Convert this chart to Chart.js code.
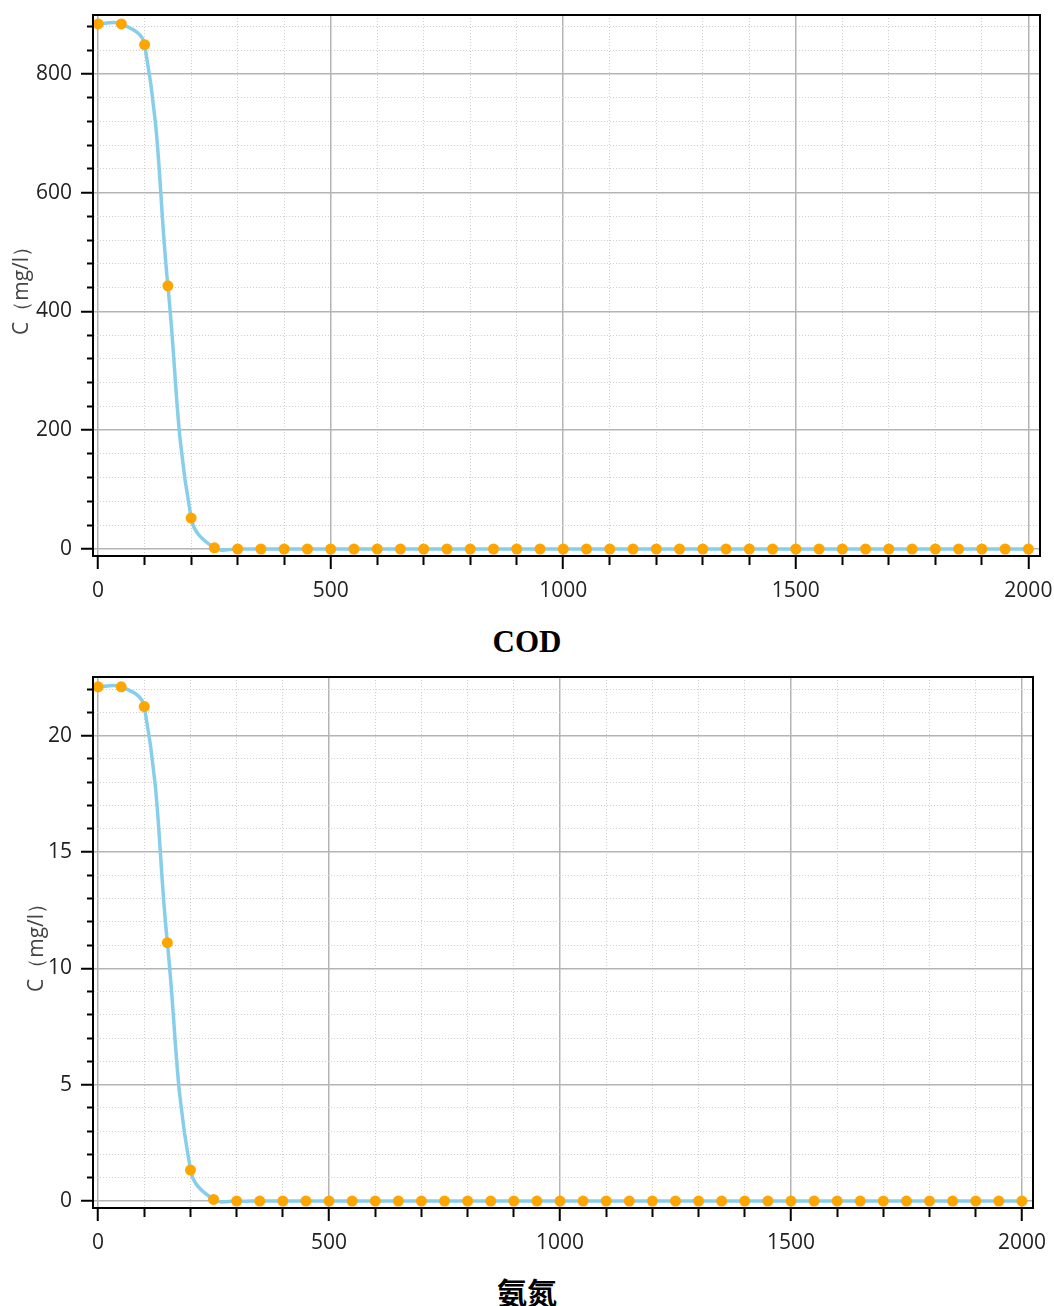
<!DOCTYPE html>
<html>
<head>
<meta charset="utf-8">
<script src="https://cdn.jsdelivr.net/npm/chart.js@4.4.1/dist/chart.umd.min.js"></script>
<style>
  body { margin: 0; background: #fff; width: 1054px; height: 1306px; position: relative; overflow: hidden; }
  .box { position: absolute; left: 0; width: 1054px; }
  .cap { position: absolute; left: 0; width: 1054px; text-align: center; color: #000; line-height: 36px; }
</style>
</head>
<body>
<div class="box" style="top:0;height:620px"><canvas id="codChart"></canvas></div>
<div class="cap" style="top:624px;font-weight:bold;font-size:31px;font-family:'Liberation Serif','Times New Roman',serif;">COD</div>
<div class="box" style="top:660px;height:600px"><canvas id="nh3Chart"></canvas></div>
<div class="cap" style="top:1273px;font-weight:bold;font-size:30px;font-family:'Noto Sans CJK SC',sans-serif;">氨氮</div>

<script>
// tiempo (x) de cada punto
const xVals = [0, 50, 100, 150, 200, 250, 300, 350, 400, 450, 500, 550, 600, 650, 700, 750, 800,
  850, 900, 950, 1000, 1050, 1100, 1150, 1200, 1250, 1300, 1350, 1400, 1450, 1500, 1550, 1600,
  1650, 1700, 1750, 1800, 1850, 1900, 1950, 2000];

// concentraciones
const codVals = [884, 884, 849, 443, 52, 2, 0, 0, 0, 0, 0, 0, 0, 0, 0, 0, 0, 0, 0, 0, 0,
  0, 0, 0, 0, 0, 0, 0, 0, 0, 0, 0, 0, 0, 0, 0, 0, 0, 0, 0, 0];
const nh3Vals = [22.1, 22.1, 21.25, 11.1, 1.33, 0.07, 0, 0, 0, 0, 0, 0, 0, 0, 0, 0, 0, 0, 0, 0, 0,
  0, 0, 0, 0, 0, 0, 0, 0, 0, 0, 0, 0, 0, 0, 0, 0, 0, 0, 0, 0];

// ticks (menores) y etiquetas (mayores)
const xTicks = [0, 100, 200, 300, 400, 500, 600, 700, 800, 900, 1000, 1100, 1200, 1300, 1400,
  1500, 1600, 1700, 1800, 1900, 2000];
const xLabels = [0, 500, 1000, 1500, 2000];
const codTicks = [0, 40, 80, 120, 160, 200, 240, 280, 320, 360, 400, 440, 480, 520, 560, 600,
  640, 680, 720, 760, 800, 840, 880];
const codLabels = [0, 200, 400, 600, 800];
const nh3Ticks = [0, 1, 2, 3, 4, 5, 6, 7, 8, 9, 10, 11, 12, 13, 14, 15, 16, 17, 18, 19, 20, 21, 22];
const nh3Labels = [0, 5, 10, 15, 20];

const tickFont = { family: "'Segoe UI','Open Sans',sans-serif", size: 21 };

// marco negro alrededor del área del gráfico
const framePlugin = {
  id: "frame",
  afterDraw(chart) {
    const { ctx, chartArea: a } = chart;
    ctx.save();
    ctx.strokeStyle = "#000";
    ctx.lineWidth = 2;
    ctx.strokeRect(a.left, a.top, a.right - a.left, a.bottom - a.top);
    ctx.restore();
  },
};

function axisOpts(ticks, labels, tickLen, shortLen, horizontal) {
  const isMajor = (c) => c.tick && labels.includes(c.tick.value);
  return {
    type: "linear",
    afterBuildTicks: (axis) => {
      axis.ticks = ticks.map((v) => ({ value: v }));
    },
    ticks: {
      autoSkip: false,
      maxRotation: 0,
      padding: 9,
      color: "#222",
      font: tickFont,
      callback: (v) => (labels.includes(v) ? String(v) : ""),
    },
    grid: {
      color: (c) => (isMajor(c) ? "#b4b4b4" : "#cfcfcf"),
      lineWidth: (c) => (isMajor(c) ? 1.5 : 1),
      tickColor: "#000",
      tickWidth: 2,
      tickLength: tickLen,
      tickBorderDash: (c) =>
        isMajor(c) ? [] : horizontal ? [shortLen, 100] : [0, tickLen - shortLen, shortLen, 100],
    },
    border: {
      color: "#000",
      width: 2,
      dash: (c) => (c.tick && !isMajor(c) ? [1, 2] : []),
    },
  };
}

function crearGrafico(id, yVals, yTicks, yLabels, yMin, yMax, xMin, xMax, pad, titlePad) {
  const x = axisOpts(xTicks, xLabels, 13, 8, true);
  x.min = xMin;
  x.max = xMax;
  x.afterFit = (s) => {
    s.height = 50;
    s.paddingLeft = 0;
    s.paddingRight = 0;
  };

  const y = axisOpts(yTicks, yLabels, 12, 6, false);
  y.min = yMin;
  y.max = yMax;
  y.afterFit = (s) => {
    s.width = 93;
    s.paddingTop = 0;
    s.paddingBottom = 0;
  };
  y.title = {
    display: true,
    text: "C（mg/l）",
    color: "#444",
    font: { family: "'Segoe UI','Open Sans',sans-serif", size: 21 },
    padding: { top: titlePad, bottom: 0 },
  };

  new Chart(document.getElementById(id), {
    type: "line",
    data: {
      datasets: [
        {
          data: xVals.map((v, i) => ({ x: v, y: yVals[i] })),
          borderColor: "#87CEEB",
          borderWidth: 3.5,
          tension: 0.4,
          pointRadius: 5.5,
          pointBorderWidth: 0,
          pointBackgroundColor: "#FFA500",
          fill: false,
        },
      ],
    },
    options: {
      responsive: true,
      maintainAspectRatio: false,
      animation: false,
      layout: { padding: pad },
      plugins: { legend: { display: false }, tooltip: { enabled: false } },
      scales: { x, y },
    },
    plugins: [framePlugin],
  });
}

crearGrafico("codChart", codVals, codTicks, codLabels, -11.8, 899, -11, 2025,
  { top: 15, right: 14, bottom: 14, left: 0 }, 9);
crearGrafico("nh3Chart", nh3Vals, nh3Ticks, nh3Labels, -0.3, 22.52, -11, 2024,
  { top: 17, right: 21, bottom: 2, left: 0 }, 24);
</script>
</body>
</html>
